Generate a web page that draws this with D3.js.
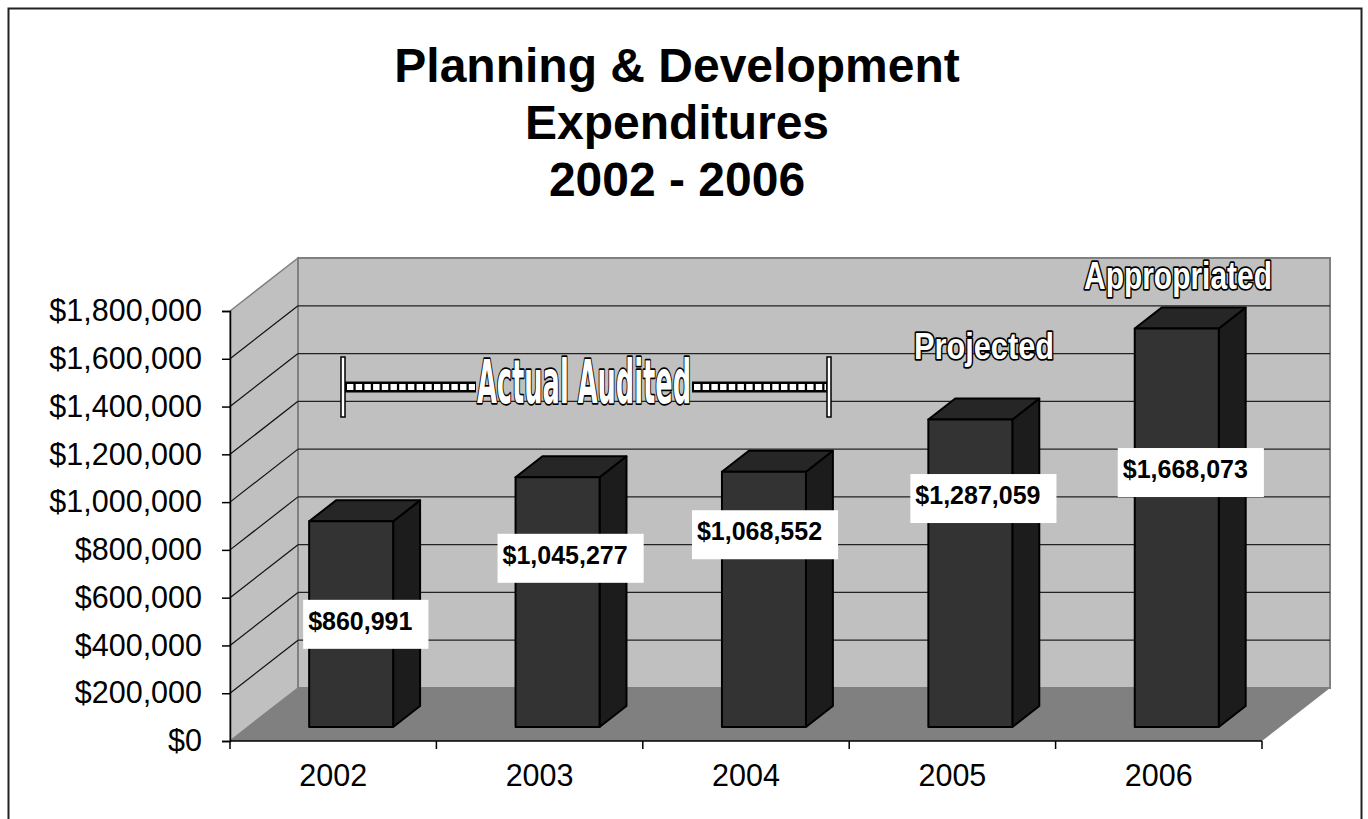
<!DOCTYPE html>
<html>
<head>
<meta charset="utf-8">
<title>Planning & Development Expenditures 2002 - 2006</title>
<script src="https://cdn.jsdelivr.net/npm/d3@7"></script>
<style>
  html, body { margin: 0; padding: 0; background: #fff; }
  svg { display: block; }
</style>
</head>
<body>
<svg id="chart" width="1368" height="819"></svg>
<script>
// ---- data ----
const years = ["2002", "2003", "2004", "2005", "2006"];
const expenditures = [860991, 1045277, 1068552, 1287059, 1668073];
const yTicks = [0, 200000, 400000, 600000, 800000, 1000000, 1200000, 1400000, 1600000, 1800000];
const titleLines = ["Planning & Development", "Expenditures", "2002 - 2006"];

// ---- layout ----
const W = 1368, H = 819;
const plot = { left: 230, right: 1262, top: 311, bottom: 741 };
const DEPTH = { dx: 68, dy: 53 };         // oblique offset of the back wall
const barZ = [0.264, 0.66];               // front / back depth of the columns
const barFrac = 0.407;                    // column width as share of a category
// label box placement, relative to each column's front face
const labelDx = [-6, -18, -30, -18, -17];
const labelDy = [103, 81, 63, 79, 144];

const svg = d3.select("#chart");
svg.append("rect").attr("width", W).attr("height", H).attr("fill", "#fff");

const x = d3.scaleBand().domain(years).range([plot.left, plot.right]).padding(0);
const y = d3.scaleLinear().domain([0, 1800000]).range([plot.bottom, plot.top]);

// project a point from the front plane into depth z (0 = front, 1 = back wall)
const P = (px, py, z) => [px + z * DEPTH.dx, py - z * DEPTH.dy];
const poly = pts => "M" + pts.map(p => p.join(",")).join("L") + "Z";

const g = svg.append("g");

// side wall
g.append("path")
  .attr("d", poly([P(plot.left, y(0), 0), P(plot.left, y(1800000), 0),
                   P(plot.left, y(1800000), 1), P(plot.left, y(0), 1)]))
  .attr("fill", "#c0c0c0").attr("stroke", "#808080").attr("stroke-width", 1.5);

// back wall
g.append("path")
  .attr("d", poly([P(plot.left, y(0), 1), P(plot.left, y(1800000), 1),
                   P(plot.right, y(1800000), 1), P(plot.right, y(0), 1)]))
  .attr("fill", "#c0c0c0").attr("stroke", "#808080").attr("stroke-width", 2);

// floor
g.append("path")
  .attr("d", poly([P(plot.left, y(0), 0), P(plot.right, y(0), 0),
                   P(plot.right, y(0), 1), P(plot.left, y(0), 1)]))
  .attr("fill", "#808080");

// gridlines on side and back walls
const gridVals = yTicks.filter(v => v > 0 && v < 1800000);
g.selectAll("path.grid-side").data(gridVals).join("path")
  .attr("class", "grid-side")
  .attr("d", v => "M" + P(plot.left, y(v), 0) + "L" + P(plot.left, y(v), 1))
  .attr("stroke", "#111").attr("stroke-width", 1.2).attr("fill", "none");
g.selectAll("path.grid-back").data(gridVals).join("path")
  .attr("class", "grid-back")
  .attr("d", v => "M" + P(plot.left, y(v), 1) + "L" + P(plot.right, y(v), 1))
  .attr("stroke", "#222").attr("stroke-width", 1.2).attr("fill", "none");

// y axis
const yAxis = g.append("g").attr("transform", `translate(${plot.left},0)`)
  .call(d3.axisLeft(y).tickValues(yTicks).tickSize(8).tickPadding(20)
          .tickFormat(d => "$" + d3.format(",")(d)));
yAxis.select(".domain").attr("stroke", "#000").attr("stroke-width", 1.5);
yAxis.selectAll(".tick line").attr("stroke", "#000").attr("stroke-width", 1.5);
yAxis.selectAll(".tick text")
  .attr("font-family", "Liberation Sans, Arial, sans-serif")
  .attr("font-size", 30.5).attr("fill", "#000");

// x axis (ticks at category boundaries)
const xEdges = years.map(d => x(d)).concat([plot.right]);
g.append("line").attr("x1", plot.left).attr("x2", plot.right)
  .attr("y1", y(0)).attr("y2", y(0)).attr("stroke", "#000").attr("stroke-width", 1.5);
g.selectAll("line.xtick").data(xEdges).join("line")
  .attr("class", "xtick")
  .attr("x1", d => d).attr("x2", d => d)
  .attr("y1", y(0)).attr("y2", y(0) + 8)
  .attr("stroke", "#000").attr("stroke-width", 1.5);
g.selectAll("text.xlabel").data(years).join("text")
  .attr("class", "xlabel")
  .attr("x", d => x(d) + x.bandwidth() / 2)
  .attr("y", y(0) + 45)
  .attr("text-anchor", "middle")
  .attr("font-family", "Liberation Sans, Arial, sans-serif")
  .attr("font-size", 30.5).attr("fill", "#000")
  .text(d => d);

// 3D columns
const bars = years.map((yr, i) => {
  const bw = x.bandwidth() * barFrac;
  const x0 = x(yr) + (x.bandwidth() - bw) / 2;
  const x1 = x0 + bw;
  const top = y(expenditures[i]), base = y(0);
  const [z0, z1] = barZ;
  return {
    i, yr,
    front: [P(x0, top, z0), P(x1, top, z0), P(x1, base, z0), P(x0, base, z0)],
    topFace: [P(x0, top, z0), P(x1, top, z0), P(x1, top, z1), P(x0, top, z1)],
    side: [P(x1, top, z0), P(x1, top, z1), P(x1, base, z1), P(x1, base, z0)]
  };
});
const barG = g.selectAll("g.bar").data(bars).join("g").attr("class", "bar");
barG.append("path").attr("d", d => poly(d.side))
  .attr("fill", "#1c1c1c").attr("stroke", "#000").attr("stroke-width", 2).attr("stroke-linejoin", "round");
barG.append("path").attr("d", d => poly(d.topFace))
  .attr("fill", "#262626").attr("stroke", "#000").attr("stroke-width", 2).attr("stroke-linejoin", "round");
barG.append("path").attr("d", d => poly(d.front))
  .attr("fill", "#333333").attr("stroke", "#000").attr("stroke-width", 2).attr("stroke-linejoin", "round");

// value labels in white boxes
const fmt = v => "$" + d3.format(",")(v);
bars.forEach(b => {
  const [fx, fy] = b.front[0];
  const lg = g.append("g");
  const t = lg.append("text")
    .attr("font-family", "Liberation Sans, Arial, sans-serif")
    .attr("font-weight", "bold").attr("font-size", 25).attr("fill", "#000")
    .text(fmt(expenditures[b.i]));
  const tw = t.node().getComputedTextLength();
  const bx = fx + labelDx[b.i];
  const by = fy + labelDy[b.i] - 24.5;
  lg.insert("rect", "text").attr("x", bx).attr("y", by)
    .attr("width", tw + 21).attr("height", 49).attr("fill", "#fff");
  t.attr("x", bx + 5).attr("y", by + 30);
});

// outlined annotation text
function outlined(parent, txt, cx, baseline, size, len, family) {
  return parent.append("text")
    .attr("x", cx).attr("y", baseline)
    .attr("text-anchor", "middle")
    .attr("font-family", family)
    .attr("font-weight", "bold").attr("font-size", size)
    .attr("textLength", len).attr("lengthAdjust", "spacingAndGlyphs")
    .attr("fill", "#fff").attr("stroke", "#000").attr("stroke-width", 3.5)
    .attr("stroke-linejoin", "round").attr("paint-order", "stroke")
    .text(txt);
}

// "Actual Audited" bracket across the audited years
const ann = g.append("g");
const bracketY = 387, bracketL = 343, bracketR = 829, textL = 476, textR = 692;
[[bracketL + 2, textL], [textR, bracketR - 2]].forEach(([a, b]) => {
  ann.append("rect").attr("x", a).attr("y", bracketY - 5.5).attr("width", b - a).attr("height", 11)
    .attr("fill", "#000");
  ann.append("line").attr("x1", a + 2).attr("x2", b - 1).attr("y1", bracketY).attr("y2", bracketY)
    .attr("stroke", "#fff").attr("stroke-width", 6).attr("stroke-dasharray", "6.4,2.3");
});
[bracketL, bracketR].forEach(bx => {
  ann.append("rect").attr("x", bx - 2).attr("y", 357).attr("width", 4).attr("height", 60)
    .attr("fill", "#fff").attr("stroke", "#000").attr("stroke-width", 1.5);
});
outlined(ann, "Actual Audited", (textL + textR) / 2, 403, 61, 214,
         "Liberation Sans Narrow, DejaVu Sans Condensed, Arial Narrow, sans-serif");
outlined(ann, "Projected", 984, 359, 37, 140, "Liberation Sans, Arial, sans-serif");
outlined(ann, "Appropriated", 1178, 289, 38, 188, "Liberation Sans, Arial, sans-serif");

// title
svg.append("g").selectAll("text").data(titleLines).join("text")
  .attr("x", 677).attr("y", (d, i) => 82 + i * 57)
  .attr("text-anchor", "middle")
  .attr("font-family", "Liberation Sans, Arial, sans-serif")
  .attr("font-weight", "bold").attr("font-size", 48).attr("fill", "#000")
  .text(d => d);

// chart frame
svg.append("rect").attr("x", 8.5).attr("y", 8.5).attr("width", 1353).attr("height", 830)
  .attr("fill", "none").attr("stroke", "#222").attr("stroke-width", 2);
</script>
</body>
</html>
